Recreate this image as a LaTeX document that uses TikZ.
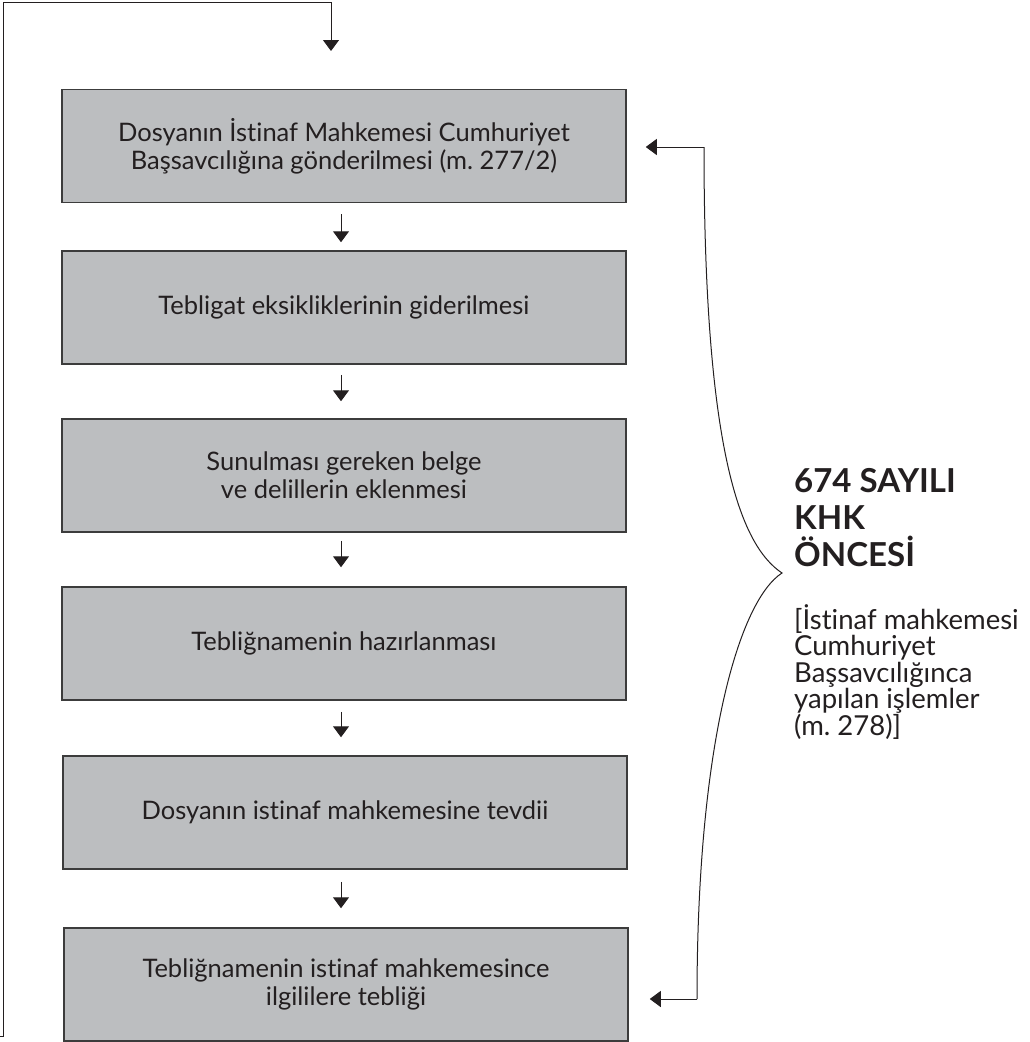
\documentclass[tikz,border=0pt]{standalone}
\usepackage{fontspec}
\setmainfont[Ligatures=NoCommon]{Lato}
\usetikzlibrary{arrows.meta}
\definecolor{boxfill}{HTML}{BCBEC0}
\definecolor{ink}{HTML}{231F20}
\definecolor{edge}{HTML}{3C3C3C}
\tikzset{
  stepbox/.style={draw=edge, line width=1.5pt, fill=boxfill, minimum width=564pt,
    minimum height=113pt, inner sep=0pt, align=center,
    font=\fontsize{25.5}{28}\selectfont, text=ink},
  flow/.style={draw=ink, line width=1pt, -{Triangle[width=16pt,length=11pt]}},
  thinline/.style={draw=ink, line width=1pt},
  title/.style={anchor=north west, inner sep=0pt, align=left,
    font=\fontsize{33}{37}\selectfont\bfseries, text=ink},
  note/.style={anchor=north west, inner sep=0pt, align=left,
    font=\fontsize{27.5}{26.5}\selectfont, text=ink}
}
\begin{document}
\begin{tikzpicture}[x=1pt,y=-1pt]
\useasboundingbox (0,0) rectangle (1030,1042);

\node[stepbox] (b1) at (344,146) {Dosyanın İstinaf Mahkemesi Cumhuriyet\\Başsavcılığına gönderilmesi (m.~277/2)};
\node[stepbox] (b2) at (344,307.5) {Tebligat eksikliklerinin giderilmesi};
\node[stepbox] (b3) at (344,475.5) {Sunulması gereken belge\\ve delillerin eklenmesi};
\node[stepbox] (b4) at (344,643.5) {Tebliğnamenin hazırlanması};
\node[stepbox] (b5) at (345,812.5) {Dosyanın istinaf mahkemesine tevdii};
\node[stepbox] (b6) at (346,984.5) {Tebliğnamenin istinaf mahkemesince\\ilgililere tebliği};

\draw[flow, shorten <=11pt, shorten >=8pt] ([xshift=-3pt]b1.south) -- ([xshift=-3pt]b1.south |- b2.north);
\draw[flow, shorten <=10pt, shorten >=17pt] ([xshift=-3pt]b2.south) -- ([xshift=-3pt]b2.south |- b3.north);
\draw[flow, shorten <=8pt, shorten >=19pt] ([xshift=-3pt]b3.south) -- ([xshift=-3pt]b3.south |- b4.north);
\draw[flow, shorten <=11pt, shorten >=18pt] ([xshift=-3pt]b4.south) -- ([xshift=-3pt]b4.south |- b5.north);
\draw[flow, shorten <=12pt, shorten >=19pt] ([xshift=-4pt]b5.south) -- ([xshift=-4pt]b5.south |- b6.north);

% loop back line
\coordinate (ls) at (0,1036);
\coordinate (lb) at (3,1036);
\coordinate (lt) at (3,2);
\coordinate (tin) at (331,51);
\draw[flow] (ls) -- (lb) -- (lt) -- (lt -| tin) -- (tin);

% right brace
\coordinate (rt) at (704,147);
\coordinate (rb) at (697,999);
\coordinate (cusp) at (782,573);
\draw[flow, shorten >=19pt] (rt) -- (b1.east |- rt);
\draw[flow, shorten >=21pt] (rb) -- (b6.east |- rb);
\draw[thinline] (rt) .. controls (704,450) and (740,545) .. (cusp)
  .. controls (740,600) and (697,740) .. (rb);

\node[title] (ttl) at (794,468) {674 SAYILI\\KHK\\ÖNCESİ};
\node[note] (nt) at (794,604) {[İstinaf mahkemesi\\Cumhuriyet\\Başsavcılığınca\\yapılan işlemler\\(m.~278)]};
\end{tikzpicture}
\end{document}
